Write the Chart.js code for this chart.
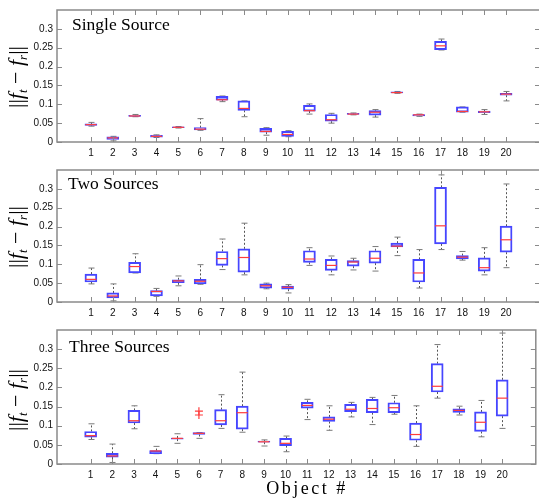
<!DOCTYPE html>
<html>
<head>
<meta charset="utf-8">
<script src="https://cdn.jsdelivr.net/npm/chart.js@4/dist/chart.umd.min.js"></script>
<style>
  html, body { margin: 0; padding: 0; background: #fff; }
  #wrap { position: relative; width: 539px; height: 499px; overflow: hidden; }
  .pane { position: absolute; left: 0; width: 539px; overflow: hidden; }
  .pane canvas { display: block; }
  .title { position: absolute; font-family: "Liberation Serif", "Times New Roman", serif; font-size: 17.5px; color: #000; white-space: nowrap; line-height: 1; }
  .ylab { position: absolute; font-family: "Liberation Serif", "Times New Roman", serif; font-size: 22px; color: #000; white-space: nowrap; line-height: 1; transform: translate(-50%, -50%) rotate(-90deg); }
  .ylab i { font-style: italic; }
  .ylab sub { font-size: 13px; font-style: italic; vertical-align: -4px; }
  .xlab { position: absolute; font-family: "Liberation Serif", "Times New Roman", serif; font-size: 18px; letter-spacing: 2.5px; color: #000; white-space: nowrap; line-height: 1; transform: translateX(-50%); }
</style>
</head>
<body>
<div id="wrap">
  <div class="pane" style="top:0;height:160px;"><canvas id="c1"></canvas></div>
  <div class="pane" style="top:160px;height:160px;"><canvas id="c2"></canvas></div>
  <div class="pane" style="top:320px;height:179px;"><canvas id="c3"></canvas></div>

  <div class="title" style="left:72px;top:16px;">Single Source</div>
  <div class="title" style="left:68px;top:175px;">Two Sources</div>
  <div class="title" style="left:69px;top:338px;">Three Sources</div>

  <div class="ylab" style="left:17px;top:77px;">||<i>f</i><sub>t</sub> − <i>f</i><sub>r</sub>||</div>
  <div class="ylab" style="left:17px;top:237px;">||<i>f</i><sub>t</sub> − <i>f</i><sub>r</sub>||</div>
  <div class="ylab" style="left:17px;top:400px;">||<i>f</i><sub>t</sub> − <i>f</i><sub>r</sub>||</div>

  <div class="xlab" style="left:307px;top:479px;">Object #</div>
</div>

<script>
// Object indices along the x axis and the y tick positions
const OBJECTS = [1, 2, 3, 4, 5, 6, 7, 8, 9, 10, 11, 12, 13, 14, 15, 16, 17, 18, 19, 20];
const Y_TICKS = [0, 0.05, 0.1, 0.15, 0.2, 0.25, 0.3];
const Y_TICK_LABELS = ['0', '0.05', '0.1', '0.15', '0.2', '0.25', '0.3'];

// Single source: whisker low, lower quartile, median, upper quartile, whisker high
const single_lo  = [0.042, 0.003, 0.067, 0.012, 0.037, 0.031, 0.107, 0.067, 0.018, 0.014, 0.074, 0.050, 0.072, 0.066, 0.129, 0.068, 0.244, 0.079, 0.073, 0.109];
const single_q1  = [0.044, 0.007, 0.068, 0.013, 0.038, 0.032, 0.111, 0.084, 0.026, 0.015, 0.082, 0.055, 0.073, 0.071, 0.130, 0.069, 0.245, 0.079, 0.078, 0.124];
const single_med = [0.046, 0.011, 0.069, 0.015, 0.039, 0.034, 0.112, 0.089, 0.028, 0.020, 0.083, 0.059, 0.074, 0.079, 0.131, 0.072, 0.255, 0.081, 0.080, 0.127];
const single_q3  = [0.048, 0.014, 0.071, 0.018, 0.040, 0.038, 0.121, 0.109, 0.036, 0.028, 0.097, 0.073, 0.076, 0.083, 0.133, 0.073, 0.267, 0.093, 0.082, 0.129];
const single_hi  = [0.052, 0.015, 0.073, 0.019, 0.041, 0.062, 0.122, 0.109, 0.038, 0.030, 0.101, 0.076, 0.077, 0.086, 0.134, 0.074, 0.273, 0.093, 0.086, 0.134];

// Two sources
const two_lo  = [0.048, 0.003, 0.077, 0.015, 0.043, 0.047, 0.086, 0.072, 0.035, 0.024, 0.097, 0.072, 0.085, 0.082, 0.123, 0.037, 0.139, 0.111, 0.072, 0.091];
const two_q1  = [0.053, 0.011, 0.077, 0.016, 0.051, 0.048, 0.097, 0.079, 0.037, 0.034, 0.105, 0.084, 0.095, 0.103, 0.146, 0.053, 0.154, 0.114, 0.082, 0.132];
const two_med = [0.060, 0.016, 0.094, 0.028, 0.056, 0.055, 0.115, 0.118, 0.043, 0.039, 0.114, 0.097, 0.106, 0.116, 0.148, 0.077, 0.202, 0.119, 0.091, 0.165];
const two_q3  = [0.074, 0.024, 0.105, 0.030, 0.059, 0.060, 0.134, 0.141, 0.048, 0.042, 0.136, 0.113, 0.110, 0.136, 0.156, 0.113, 0.304, 0.123, 0.117, 0.201];
const two_hi  = [0.090, 0.048, 0.128, 0.036, 0.069, 0.099, 0.167, 0.209, 0.050, 0.046, 0.144, 0.122, 0.116, 0.147, 0.172, 0.139, 0.337, 0.134, 0.144, 0.313];

// Three sources
const three_lo  = [0.064, 0.004, 0.092, 0.027, 0.054, 0.067, 0.093, 0.083, 0.047, 0.032, 0.116, 0.088, 0.123, 0.103, 0.130, 0.046, 0.172, 0.128, 0.071, 0.093];
const three_q1  = [0.070, 0.018, 0.107, 0.027, 0.065, 0.077, 0.102, 0.091, 0.057, 0.048, 0.146, 0.111, 0.137, 0.134, 0.134, 0.062, 0.188, 0.135, 0.085, 0.125];
const three_med = [0.074, 0.021, 0.113, 0.034, 0.067, 0.080, 0.113, 0.134, 0.058, 0.054, 0.153, 0.117, 0.143, 0.145, 0.147, 0.077, 0.203, 0.140, 0.109, 0.172];
const three_q3  = [0.085, 0.028, 0.140, 0.035, 0.068, 0.082, 0.142, 0.151, 0.060, 0.067, 0.161, 0.123, 0.156, 0.169, 0.160, 0.107, 0.262, 0.144, 0.136, 0.220];
const three_hi  = [0.105, 0.052, 0.152, 0.046, 0.079, 0.082, 0.181, 0.240, 0.063, 0.073, 0.169, 0.152, 0.161, 0.174, 0.179, 0.152, 0.312, 0.151, 0.166, 0.342];
const three_out_x = [6, 6];
const three_out_y = [0.128, 0.138];

const BOX_BLUE = '#4646ff';
const MEDIAN_RED = '#ff3b3b';
const WHISKER = '#555555';
const CAP = '#7a7a7a';
const FRAME = '#8a8a8a';
const TICK_FONT = { family: 'Arial, "Liberation Sans", sans-serif', size: 10 };

// Whiskers, caps, medians, inward tick marks and the closed axes box
const boxPlotPlugin = {
  id: 'boxPlot',
  beforeDatasetsDraw(chart, args, opts) {
    const { ctx, scales: { x, y } } = chart;
    ctx.save();
    ctx.lineWidth = 1;
    OBJECTS.forEach((obj, i) => {
      const px = Math.round(x.getPixelForValue(obj)) + 0.5;
      const yLo = y.getPixelForValue(opts.lo[i]);
      const yQ1 = y.getPixelForValue(opts.q1[i]);
      const yQ3 = y.getPixelForValue(opts.q3[i]);
      const yHi = y.getPixelForValue(opts.hi[i]);
      ctx.strokeStyle = WHISKER;
      ctx.setLineDash([2, 2]);
      ctx.beginPath();
      ctx.moveTo(px, yQ3); ctx.lineTo(px, yHi);
      ctx.moveTo(px, yQ1); ctx.lineTo(px, yLo);
      ctx.stroke();
      ctx.setLineDash([]);
      ctx.strokeStyle = CAP;
      ctx.beginPath();
      ctx.moveTo(px - 3, yHi); ctx.lineTo(px + 3, yHi);
      ctx.moveTo(px - 3, yLo); ctx.lineTo(px + 3, yLo);
      ctx.stroke();
    });
    ctx.restore();
  },
  afterDatasetsDraw(chart, args, opts) {
    const { ctx, chartArea: a, scales: { x, y } } = chart;
    ctx.save();
    ctx.strokeStyle = MEDIAN_RED;
    ctx.lineWidth = 1.2;
    OBJECTS.forEach((obj, i) => {
      const px = x.getPixelForValue(obj);
      const ym = y.getPixelForValue(opts.med[i]);
      ctx.beginPath();
      ctx.moveTo(px - 5.5, ym); ctx.lineTo(px + 5.5, ym);
      ctx.stroke();
    });
    // axes box
    ctx.strokeStyle = FRAME;
    ctx.lineWidth = 1.5;
    ctx.strokeRect(a.left, a.top, a.right - a.left, a.bottom - a.top);
    // inward tick marks on all four sides
    ctx.lineWidth = 1;
    ctx.beginPath();
    OBJECTS.forEach(obj => {
      const px = Math.round(x.getPixelForValue(obj)) + 0.5;
      ctx.moveTo(px, a.bottom); ctx.lineTo(px, a.bottom - 5);
      ctx.moveTo(px, a.top); ctx.lineTo(px, a.top + 5);
    });
    Y_TICKS.forEach(v => {
      const py = Math.round(y.getPixelForValue(v)) + 0.5;
      ctx.moveTo(a.left, py); ctx.lineTo(a.left + 5, py);
      ctx.moveTo(a.right, py); ctx.lineTo(a.right - 5, py);
    });
    ctx.stroke();
    ctx.restore();
  }
};

function makePanel(id, height, padTop, xAxisHeight, stats, outX, outY) {
  const canvas = document.getElementById(id);
  canvas.width = 541;
  canvas.height = height;
  canvas.style.width = '541px';
  canvas.style.height = height + 'px';

  const datasets = [{
    type: 'bar',
    data: OBJECTS.map((o, i) => ({ x: o, y: [stats.q1[i], stats.q3[i]] })),
    backgroundColor: 'rgba(255,255,255,0)',
    borderColor: BOX_BLUE,
    borderWidth: 1.3,
    borderSkipped: false,
    barThickness: 12
  }];
  if (outX) {
    datasets.push({
      type: 'scatter',
      data: outX.map((v, i) => ({ x: v, y: outY[i] })),
      pointStyle: 'cross',
      radius: 4,
      borderColor: MEDIAN_RED,
      borderWidth: 1.2,
      backgroundColor: MEDIAN_RED
    });
  }

  return new Chart(canvas, {
    type: 'bar',
    data: { datasets },
    plugins: [boxPlotPlugin],
    options: {
      responsive: false,
      animation: false,
      devicePixelRatio: 1,
      layout: { padding: { top: padTop, right: 1, left: 0, bottom: 0 } },
      plugins: {
        legend: { display: false },
        tooltip: { enabled: false },
        boxPlot: stats
      },
      scales: {
        x: {
          type: 'linear',
          min: 0,
          max: 21,
          grid: { display: false, drawTicks: false },
          border: { display: false },
          afterBuildTicks: s => { s.ticks = OBJECTS.map(v => ({ value: v })); },
          afterFit: s => { s.height = xAxisHeight; },
          ticks: {
            font: TICK_FONT,
            color: '#111',
            padding: 5,
            maxRotation: 0,
            autoSkip: false,
            callback: v => String(v)
          }
        },
        y: {
          min: 0,
          max: 0.35,
          grid: { display: false, drawTicks: false },
          border: { display: false },
          afterBuildTicks: s => { s.ticks = Y_TICKS.map(v => ({ value: v })); },
          afterFit: s => { s.width = 57; },
          ticks: {
            font: TICK_FONT,
            color: '#111',
            padding: 4,
            callback: v => Y_TICK_LABELS[Y_TICKS.indexOf(v)]
          }
        }
      }
    }
  });
}

makePanel('c1', 160, 5, 18,
  { lo: single_lo, q1: single_q1, med: single_med, q3: single_q3, hi: single_hi });
makePanel('c2', 160, 5, 18,
  { lo: two_lo, q1: two_q1, med: two_med, q3: two_q3, hi: two_hi });
makePanel('c3', 179, 8, 35,
  { lo: three_lo, q1: three_q1, med: three_med, q3: three_q3, hi: three_hi },
  three_out_x, three_out_y);
</script>
</body>
</html>
